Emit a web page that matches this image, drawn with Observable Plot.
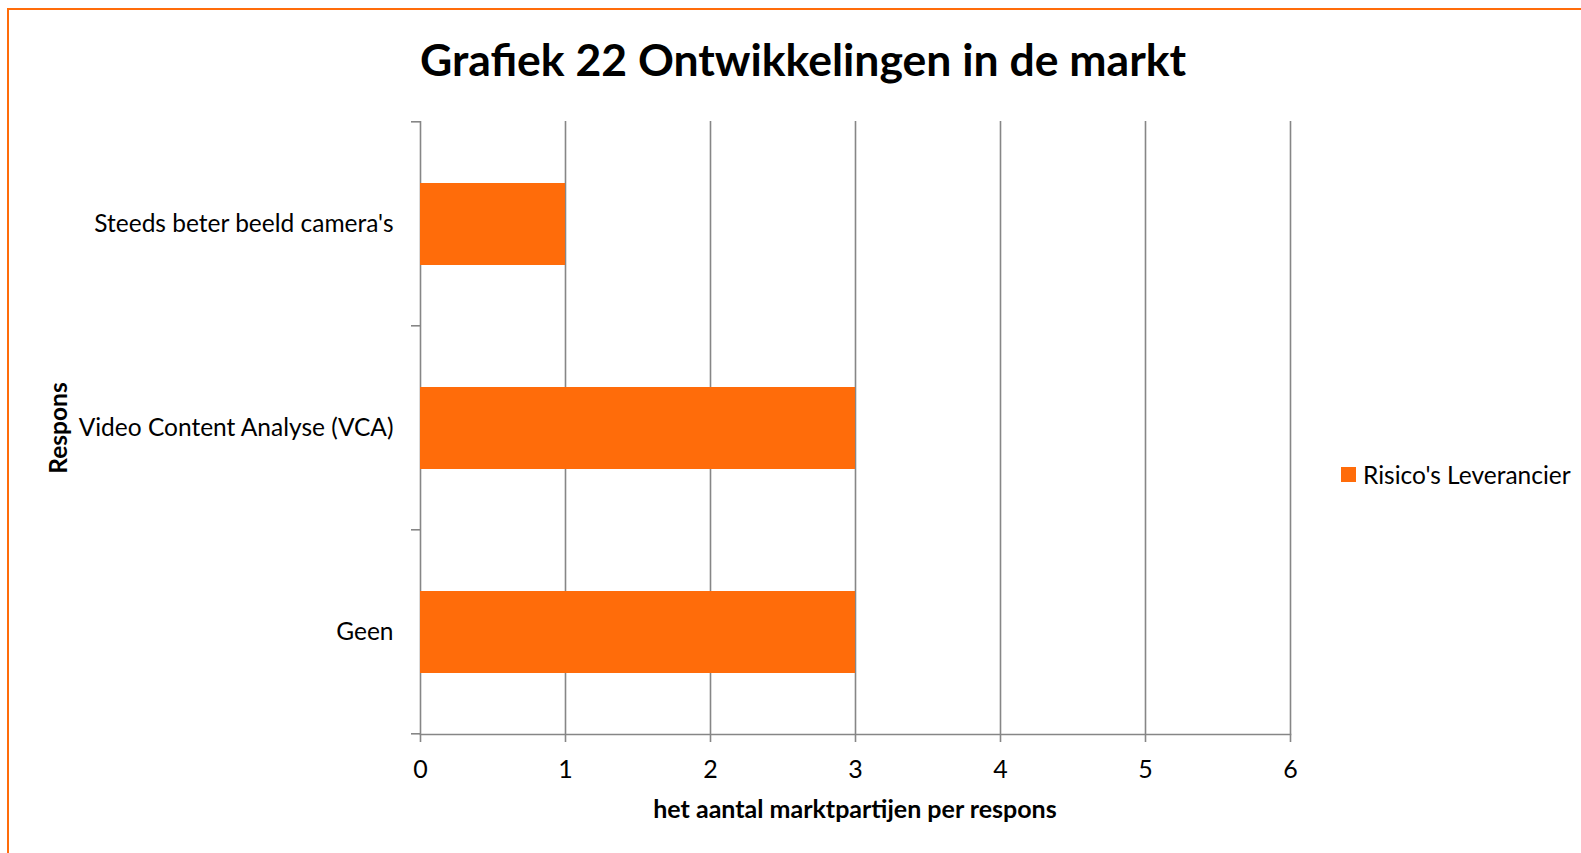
<!DOCTYPE html>
<html>
<head>
<meta charset="utf-8">
<script src="https://cdn.jsdelivr.net/npm/d3@7"></script>
<script src="https://cdn.jsdelivr.net/npm/@observablehq/plot@0.6"></script>
<style>
  html, body { margin: 0; padding: 0; background: #fff; overflow: hidden; }
  body { width: 1581px; height: 853px; position: relative; font-family: Lato, "Open Sans", sans-serif; color: #000; }
  #frame { position: absolute; left: 7px; top: 8px; width: 1640px; height: 900px; border: 2.5px solid #ff6c0a; box-sizing: border-box; }
  #title { position: absolute; left: 0; width: 1606px; top: 30px; text-align: center; font-weight: 700; font-size: 44.5px; line-height: 58px; white-space: nowrap; }
  #chart { position: absolute; left: 0; top: 0; }
  #ylabel { position: absolute; left: 57px; top: 428px; transform: translate(-50%, -50%) rotate(-90deg); font-weight: 700; font-size: 24.5px; white-space: nowrap; }
  #xlabel { position: absolute; left: 855px; top: 808px; transform: translate(-50%, -50%); font-weight: 700; font-size: 25px; white-space: nowrap; }
  #legend { position: absolute; left: 1341px; top: 460px; display: flex; align-items: center; font-size: 24.5px; white-space: nowrap; }
  #legend .sw { width: 15px; height: 15px; background: #ff6c0a; margin-right: 7px; }
</style>
</head>
<body>
<div id="frame"></div>
<div id="chart"></div>
<div id="title"></div>
<div id="ylabel"></div>
<div id="xlabel"></div>
<div id="legend"><div class="sw"></div><span id="legtext"></span></div>
<script>
const title = "Grafiek 22 Ontwikkelingen in de markt";
const yTitle = "Respons";
const xTitle = "het aantal marktpartijen per respons";
const seriesName = "Risico's Leverancier";
const categories = ["Steeds beter beeld camera's", "Video Content Analyse (VCA)", "Geen"];
const values = [1, 3, 3];
const xTicks = [0, 1, 2, 3, 4, 5, 6];

const barColor = "#ff6c0a";
const gridColor = "#868686";

document.getElementById("title").textContent = title;
document.getElementById("ylabel").textContent = yTitle;
document.getElementById("xlabel").textContent = xTitle;
document.getElementById("legtext").textContent = seriesName;

const data = categories.map((c, i) => ({category: c, value: values[i]}));

const plot = Plot.plot({
  width: 1581,
  height: 853,
  marginLeft: 420,
  marginRight: 291,
  marginTop: 121,
  marginBottom: 119,
  style: {fontFamily: "Lato, 'Open Sans', sans-serif", fontSize: "25px", color: "#000", background: "transparent"},
  x: {domain: [0, 6], ticks: xTicks},
  y: {domain: categories, paddingInner: 0.6, paddingOuter: 0.3},
  marks: [
    Plot.ruleX(xTicks, {stroke: gridColor, strokeWidth: 1.6, strokeOpacity: 1}),
    Plot.barX(data, {x: "value", y: "category", fill: barColor}),
    Plot.frame({anchor: "bottom", stroke: gridColor, strokeWidth: 1.6, strokeOpacity: 1}),
    Plot.axisX({ticks: xTicks, tickFormat: d3.format("d"), tickSize: 8, tickPadding: 18, stroke: gridColor, strokeWidth: 1.6, label: null, fill: "#000", fontSize: 25}),
    Plot.axisY({tickSize: 0, tickPadding: 27, label: null, fill: "#000", fontSize: 24.5})
  ]
});
document.getElementById("chart").appendChild(plot);

// y-axis boundary tick marks between categories, derived from the y band scale
const ys = plot.scale("y");
const step = ys.step;
const bandStart = ys.apply(categories[0]) - step * ys.paddingInner / 2;
const bounds = d3.range(categories.length + 1).map(i => bandStart + i * step);
const svg = d3.select(plot);
svg.append("g").selectAll("line").data(bounds).join("line")
  .attr("x1", 411).attr("x2", 420)
  .attr("y1", d => d).attr("y2", d => d)
  .attr("stroke", gridColor).attr("stroke-width", 1.6);
</script>
</body>
</html>
